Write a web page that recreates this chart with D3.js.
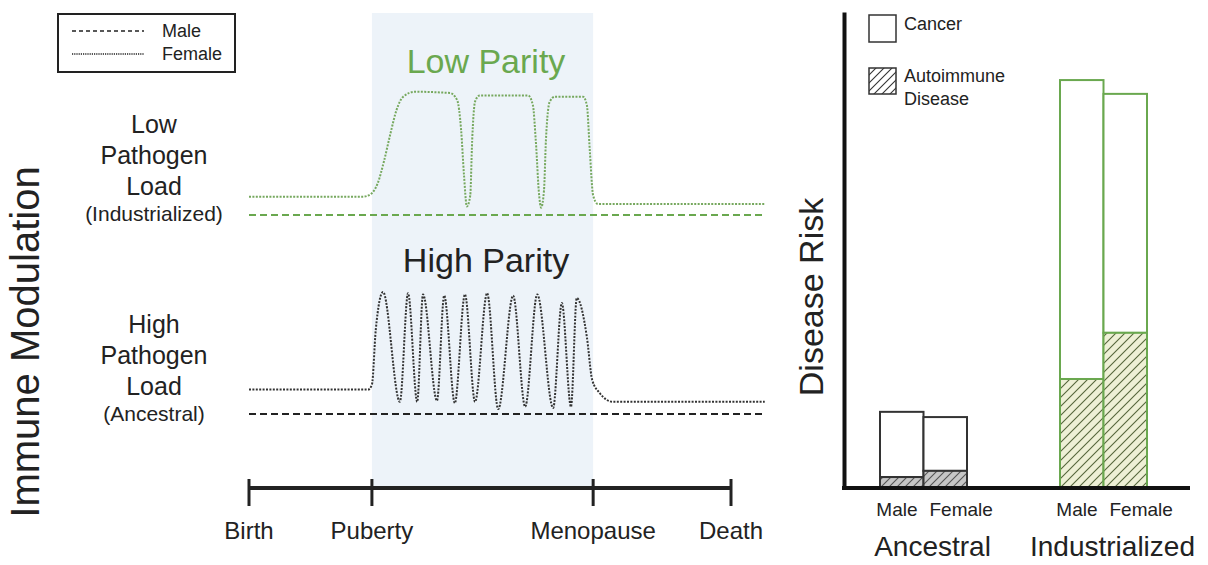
<!DOCTYPE html>
<html>
<head>
<meta charset="utf-8">
<script src="https://cdn.jsdelivr.net/npm/d3@7"></script>
<style>
body { margin: 0; background: #fff; }
svg { font-family: "Liberation Sans", Arial, sans-serif; }
</style>
</head>
<body>
<svg id="chart" width="1208" height="565"></svg>
<script>
// life stages, placed on a 0-100 lifespan axis
const stages = ["Birth", "Puberty", "Menopause", "Death"];
const stageAt = [0, 25.5, 71.4, 100];

// immune modulation: 0 = male level, 10 = pregnancy peak
const maleLevel = [[0, 0], [107, 0]];
const lowParityFemale = [
    [0, 1.5], [23.6, 1.5], [25.2, 1.7], [26.7, 2.6], [28.0, 4.4], [29.3, 6.6], [30.6, 8.6],
    [32.0, 9.7], [34.4, 10.1], [41.7, 10.0], [43.2, 9.4], [44.0, 7.0], [44.6, 3.3], [45.2, 0.7],
    [45.9, 1.6], [46.3, 6.1], [46.9, 9.3], [47.9, 9.8], [57.9, 9.8], [58.9, 9.0], [59.5, 6.1],
    [60.2, 1.6], [60.6, 0.6], [61.2, 2.0], [61.6, 6.1], [62.4, 9.3], [63.5, 9.7], [69.3, 9.7],
    [70.1, 9.0], [70.7, 5.3], [71.4, 1.6], [72.4, 0.9], [107, 0.9]
];
const highParityFemale = [
    [0, 2.0], [24.7, 2.0], [25.5, 2.4], [26.3, 6.9], [27.8, 10.0], [31.3, 1.0], [33.0, 9.9],
    [34.9, 1.0], [36.1, 9.8], [39.0, 1.1], [40.5, 9.7], [42.7, 0.9], [44.8, 9.8], [46.9, 1.0],
    [49.4, 9.9], [51.7, 0.4], [54.8, 9.7], [57.3, 0.6], [59.8, 9.8], [63.1, 0.5], [64.9, 9.1],
    [66.8, 0.6], [68.0, 9.5], [70.1, 6.3], [71.2, 2.8], [72.8, 1.7], [75.5, 1.0], [107, 1.0]
];

// disease risk bars
const groups = ["Ancestral", "Industrialized"];
const sexes = ["Male", "Female"];
const autoimmuneRisk = [[2.3, 3.6], [22.9, 32.6]];
const cancerRisk = [[13.7, 11.3], [62.8, 50.2]];

const green = "#6aa84f";
const dark = "#222";

const svg = d3.select("#chart");
const defs = svg.append("defs");

function hatch(id, bg, line, size) {
    const p = defs.append("pattern")
        .attr("id", id)
        .attr("patternUnits", "userSpaceOnUse")
        .attr("width", size).attr("height", size);
    p.append("rect").attr("width", size).attr("height", size).attr("fill", bg);
    p.append("path")
        .attr("d", `M-1,1 l2,-2 M0,${size} l${size},${-size} M${size - 1},${size + 1} l2,-2`)
        .attr("stroke", line).attr("stroke-width", 1.1);
}
hatch("hatch-anc", "#c6c6c6", "#555", 8);
hatch("hatch-ind", "#eef0d6", "#56663c", 9);
hatch("hatch-key", "#fff", "#333", 8);

// ---------- left panel: immune modulation over the lifespan ----------
const xLife = d3.scaleLinear().domain([0, 100]).range([249, 731]);

svg.append("rect")
    .attr("x", xLife(stageAt[1]))
    .attr("y", 13)
    .attr("width", xLife(stageAt[2]) - xLife(stageAt[1]))
    .attr("height", 475)
    .attr("fill", "#edf3f9");

const panels = [
    { title: "Low Parity", color: green, female: lowParityFemale, base: 215, titleY: 73,
      dotColor: "#76a85e", label: ["Low", "Pathogen", "Load", "(Industrialized)"], labelY: 133 },
    { title: "High Parity", color: dark, female: highParityFemale, base: 414, titleY: 272,
      dotColor: "#333", label: ["High", "Pathogen", "Load", "(Ancestral)"], labelY: 333 }
];

panels.forEach(p => {
    const y = d3.scaleLinear().domain([0, 10]).range([p.base, p.base - 122]);
    const line = d3.line()
        .x(d => xLife(d[0]))
        .y(d => y(d[1]))
        .curve(d3.curveMonotoneX);

    svg.append("path")
        .datum(maleLevel)
        .attr("d", line)
        .attr("fill", "none")
        .attr("stroke", p.color)
        .attr("stroke-width", 2)
        .attr("stroke-dasharray", "7,4");

    svg.append("path")
        .datum(p.female)
        .attr("d", line)
        .attr("fill", "none")
        .attr("stroke", p.dotColor)
        .attr("stroke-width", 2)
        .attr("stroke-dasharray", "2,1.4");

    svg.append("text")
        .attr("x", 486).attr("y", p.titleY)
        .attr("text-anchor", "middle")
        .attr("font-size", 34)
        .attr("fill", p.color)
        .text(p.title);

    p.label.forEach((t, i) => {
        svg.append("text")
            .attr("x", 154)
            .attr("y", p.labelY + i * 31 - (i == 3 ? 5 : 0))
            .attr("text-anchor", "middle")
            .attr("font-size", i == 3 ? 21 : 25)
            .attr("fill", dark)
            .text(t);
    });
});

// legend box
svg.append("rect")
    .attr("x", 58).attr("y", 14).attr("width", 177).attr("height", 58)
    .attr("fill", "#fff").attr("stroke", dark).attr("stroke-width", 2);
[["Male", "4,3", 31], ["Female", "1.2,1", 54]].forEach(([name, dash, ly]) => {
    svg.append("line")
        .attr("x1", 72).attr("x2", 144).attr("y1", ly).attr("y2", ly)
        .attr("stroke", dark).attr("stroke-width", name == "Male" ? 1.5 : 1.3)
        .attr("stroke-dasharray", dash);
    svg.append("text")
        .attr("x", 162).attr("y", ly + 6)
        .attr("font-size", 18).attr("fill", dark)
        .text(name);
});

// timeline
svg.append("line")
    .attr("x1", xLife(0)).attr("x2", xLife(100))
    .attr("y1", 488).attr("y2", 488)
    .attr("stroke", dark).attr("stroke-width", 4);

svg.selectAll(".stage-tick")
    .data(stageAt)
    .join("line")
    .attr("class", "stage-tick")
    .attr("x1", d => xLife(d)).attr("x2", d => xLife(d))
    .attr("y1", 479).attr("y2", 506)
    .attr("stroke", dark).attr("stroke-width", 3);

svg.selectAll(".stage-label")
    .data(stageAt)
    .join("text")
    .attr("class", "stage-label")
    .attr("x", d => xLife(d)).attr("y", 539)
    .attr("text-anchor", "middle")
    .attr("font-size", 24).attr("fill", dark)
    .text((d, i) => stages[i]);

svg.append("text")
    .attr("transform", "translate(39,342) rotate(-90)")
    .attr("text-anchor", "middle")
    .attr("font-size", 40).attr("fill", dark)
    .text("Immune Modulation");

// ---------- right panel: disease risk ----------
const yRisk = d3.scaleLinear().domain([0, 100]).range([488, 12]);
const xGroup = d3.scalePoint().domain(groups).range([923.5, 1103.5]);
const xSex = d3.scaleBand().domain(sexes).range([-43.5, 43.5]);

groups.forEach((g, gi) => {
    const stroke = gi == 0 ? "#333" : green;
    sexes.forEach((s, si) => {
        const x0 = xGroup(g) + xSex(s);
        const auto = autoimmuneRisk[gi][si];
        const total = auto + cancerRisk[gi][si];
        svg.append("rect")
            .attr("x", x0).attr("width", xSex.bandwidth())
            .attr("y", yRisk(total)).attr("height", yRisk(auto) - yRisk(total))
            .attr("fill", "#fff").attr("stroke", stroke).attr("stroke-width", 2);
        svg.append("rect")
            .attr("x", x0).attr("width", xSex.bandwidth())
            .attr("y", yRisk(auto)).attr("height", yRisk(0) - yRisk(auto))
            .attr("fill", gi == 0 ? "url(#hatch-anc)" : "url(#hatch-ind)")
            .attr("stroke", stroke).attr("stroke-width", 2);
    });

    svg.append("text")
        .attr("x", xGroup(g) - 6).attr("y", 516)
        .attr("text-anchor", "end")
        .attr("font-size", 19).attr("fill", dark)
        .text(sexes[0]);
    svg.append("text")
        .attr("x", xGroup(g) + 6).attr("y", 516)
        .attr("font-size", 19).attr("fill", dark)
        .text(sexes[1]);
    svg.append("text")
        .attr("x", xGroup(g) + 9).attr("y", 556)
        .attr("text-anchor", "middle")
        .attr("font-size", 28).attr("fill", dark)
        .text(g);
});

svg.append("g")
    .attr("transform", "translate(844,0)")
    .call(d3.axisLeft(yRisk).tickValues([]).tickSizeOuter(0))
    .select(".domain")
    .attr("stroke", "#111").attr("stroke-width", 4);

svg.append("line")
    .attr("x1", 842).attr("x2", 1190)
    .attr("y1", yRisk(0)).attr("y2", yRisk(0))
    .attr("stroke", "#111").attr("stroke-width", 4);

svg.append("text")
    .attr("transform", "translate(823,297) rotate(-90)")
    .attr("text-anchor", "middle")
    .attr("font-size", 34).attr("fill", dark)
    .text("Disease Risk");

// disease legend
svg.append("rect")
    .attr("x", 869).attr("y", 15).attr("width", 27).attr("height", 27)
    .attr("fill", "#fff").attr("stroke", "#333").attr("stroke-width", 1.5);
svg.append("text")
    .attr("x", 904).attr("y", 30)
    .attr("font-size", 18).attr("fill", dark)
    .text("Cancer");
svg.append("rect")
    .attr("x", 869).attr("y", 68).attr("width", 27).attr("height", 26)
    .attr("fill", "url(#hatch-key)").attr("stroke", "#333").attr("stroke-width", 1.5);
svg.append("text")
    .attr("x", 904).attr("y", 82)
    .attr("font-size", 18).attr("fill", dark)
    .text("Autoimmune");
svg.append("text")
    .attr("x", 904).attr("y", 105)
    .attr("font-size", 18).attr("fill", dark)
    .text("Disease");
</script>
</body>
</html>
